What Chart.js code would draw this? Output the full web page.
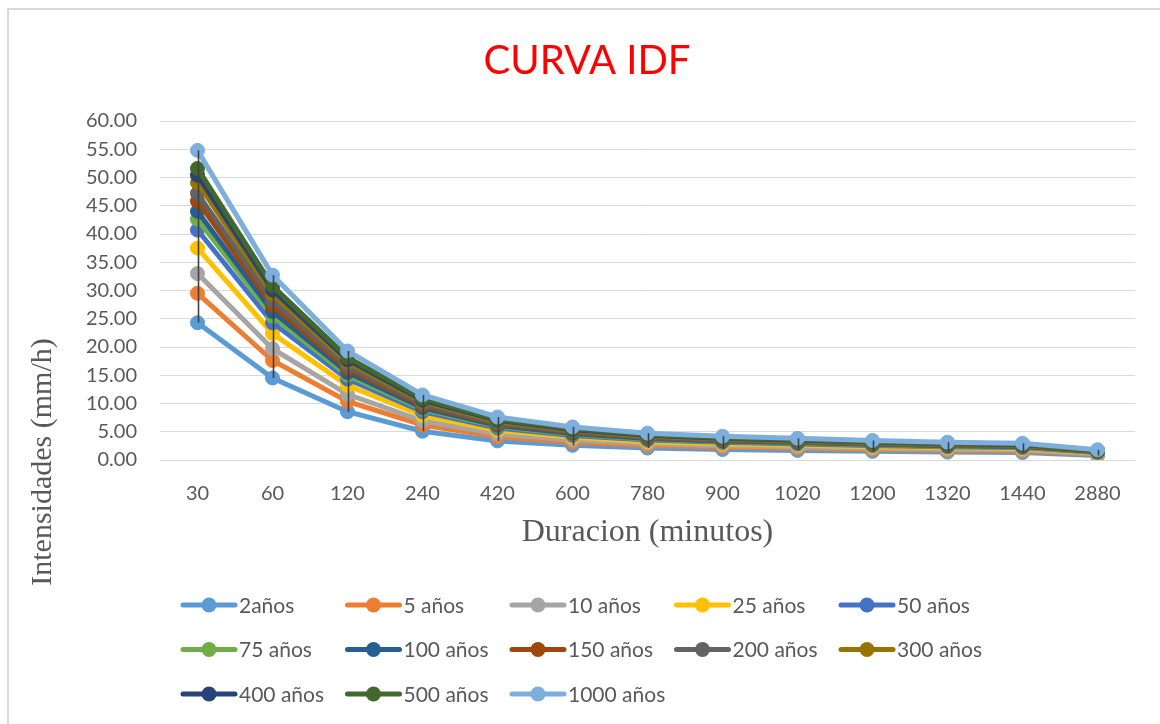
<!DOCTYPE html>
<html lang="es">
<head>
<meta charset="utf-8">
<title>CURVA IDF</title>
<script src="https://cdn.jsdelivr.net/npm/chart.js@4.4.1/dist/chart.umd.min.js"></script>
<style>
  html, body { margin: 0; padding: 0; background: #ffffff; }
  #wrap { width: 1160px; height: 724px; }
</style>
</head>
<body>
<div id="wrap"><canvas id="idf" width="1160" height="724"></canvas></div>
<script>
// Duraciones (minutos)
const durations = [30, 60, 120, 240, 420, 600, 780, 900, 1020, 1200, 1320, 1440, 2880];

// Intensidades (mm/h) por periodo de retorno
const i2    = [24.30, 14.51,  8.55,  5.10, 3.38, 2.60, 2.11, 1.86, 1.70, 1.53, 1.40, 1.31, 0.80];
const i5    = [29.50, 17.61, 10.38,  6.20, 4.10, 3.16, 2.56, 2.26, 2.07, 1.86, 1.70, 1.59, 0.97];
const i10   = [33.00, 19.70, 11.62,  6.93, 4.59, 3.53, 2.86, 2.53, 2.31, 2.08, 1.90, 1.78, 1.09];
const i25   = [37.50, 22.39, 13.20,  7.88, 5.21, 4.01, 3.25, 2.87, 2.63, 2.36, 2.16, 2.03, 1.24];
const i50   = [40.70, 24.30, 14.33,  8.55, 5.66, 4.35, 3.53, 3.12, 2.85, 2.56, 2.34, 2.20, 1.34];
const i75   = [42.60, 25.43, 15.00,  8.95, 5.92, 4.56, 3.69, 3.26, 2.98, 2.68, 2.45, 2.30, 1.41];
const i100  = [44.00, 26.27, 15.49,  9.24, 6.12, 4.71, 3.81, 3.37, 3.08, 2.77, 2.53, 2.38, 1.45];
const i150  = [45.80, 27.34, 16.12,  9.62, 6.37, 4.90, 3.97, 3.51, 3.21, 2.89, 2.63, 2.47, 1.51];
const i200  = [47.20, 28.18, 16.61,  9.91, 6.56, 5.05, 4.09, 3.62, 3.30, 2.97, 2.71, 2.55, 1.56];
const i300  = [49.10, 29.31, 17.28, 10.31, 6.82, 5.25, 4.26, 3.76, 3.44, 3.09, 2.82, 2.65, 1.62];
const i400  = [50.40, 30.09, 17.74, 10.58, 7.01, 5.39, 4.37, 3.86, 3.53, 3.18, 2.90, 2.72, 1.66];
const i500  = [51.60, 30.81, 18.16, 10.84, 7.17, 5.52, 4.47, 3.95, 3.61, 3.25, 2.97, 2.79, 1.70];
const i1000 = [54.80, 32.72, 19.29, 11.51, 7.62, 5.86, 4.75, 4.20, 3.84, 3.45, 3.15, 2.96, 1.81];

const seriesNames = ['2años', '5 años', '10 años', '25 años', '50 años', '75 años', '100 años',
                     '150 años', '200 años', '300 años', '400 años', '500 años', '1000 años'];
const seriesData = [i2, i5, i10, i25, i50, i75, i100, i150, i200, i300, i400, i500, i1000];

// Axis ticks
const yMin = 0, yMax = 60, yStep = 5;

// Series colours (Office palette)
const seriesColors = ['#5B9BD5', '#ED7D31', '#A5A5A5', '#FFC000', '#4472C4', '#70AD47', '#255E91',
                      '#9E480E', '#636363', '#997300', '#264478', '#43682B', '#7CAFDD'];

const TEXT = '#595959';
const SANS = 'Lato, "Open Sans", "Noto Sans", sans-serif';
const SERIF = '"Liberation Serif", "DejaVu Serif", serif';

const datasets = seriesData.map((vals, i) => ({
  label: seriesNames[i],
  data: vals,
  borderColor: seriesColors[i],
  backgroundColor: seriesColors[i],
  pointBackgroundColor: seriesColors[i],
  pointBorderColor: seriesColors[i],
  borderWidth: 5,
  pointRadius: 7,
  pointBorderWidth: 1,
  tension: 0,
  fill: false,
  order: seriesData.length - i   // later series drawn on top
}));

// Frame, title, high-low lines, axis titles and legend
const decorations = {
  id: 'decorations',
  beforeDraw(chart) {
    const c = chart.ctx;
    c.save();
    c.fillStyle = '#ffffff';
    c.fillRect(0, 0, chart.width, chart.height);
    c.strokeStyle = '#D9D9D9';
    c.lineWidth = 2;
    c.strokeRect(8, 9, chart.width + 20, chart.height + 20);
    c.restore();
  },
  afterDatasetsDraw(chart) {
    const c = chart.ctx, xs = chart.scales.x, ys = chart.scales.y;
    c.save();
    c.strokeStyle = '#404040';
    c.lineWidth = 1.6;
    durations.forEach((d, i) => {
      const vals = chart.data.datasets.map(ds => ds.data[i]);
      const hi = Math.max(...vals), lo = Math.min(...vals);
      const px = Math.round(xs.getPixelForValue(i)) + 0.5;
      c.beginPath();
      c.moveTo(px, ys.getPixelForValue(hi));
      c.lineTo(px, ys.getPixelForValue(lo));
      c.stroke();
    });
    c.restore();
  },
  afterDraw(chart) {
    const c = chart.ctx, area = chart.chartArea;
    c.save();
    // Title
    c.fillStyle = '#FF0000';
    c.font = '40px ' + SANS;
    c.textAlign = 'center';
    c.textBaseline = 'middle';
    c.fillText('CURVA IDF', 587, 61);

    // Axis titles
    c.fillStyle = TEXT;
    c.font = '32px ' + SERIF;
    c.fillText('Duracion (minutos)', (area.left + area.right) / 2, 533);
    c.save();
    c.translate(43, 462);
    c.rotate(-Math.PI / 2);
    c.font = '30px ' + SERIF;
    c.fillText('Intensidades (mm/h)', 0, 0);
    c.restore();

    // Legend: five columns, rows left-aligned
    const col0 = 183, colW = 164.5, row0 = 605, rowH = 44.5, lineLen = 52;
    c.font = '21px ' + SANS;
    c.textAlign = 'left';
    chart.data.datasets.forEach((ds, i) => {
      const x0 = col0 + (i % 5) * colW;
      const y0 = row0 + Math.floor(i / 5) * rowH;
      c.strokeStyle = ds.borderColor;
      c.lineWidth = 5;
      c.lineCap = 'round';
      c.beginPath();
      c.moveTo(x0, y0);
      c.lineTo(x0 + lineLen, y0);
      c.stroke();
      c.fillStyle = ds.borderColor;
      c.beginPath();
      c.arc(x0 + lineLen / 2, y0, 7.5, 0, Math.PI * 2);
      c.fill();
      c.fillStyle = TEXT;
      c.fillText(ds.label, x0 + lineLen + 4, y0 + 1);
    });
    c.restore();
  }
};

new Chart(document.getElementById('idf'), {
  type: 'line',
  data: { labels: durations.map(String), datasets },
  options: {
    responsive: false,
    animation: false,
    events: [],
    layout: { padding: { left: 0, right: 25, top: 121, bottom: 0 } },
    plugins: {
      legend: { display: false },
      title: { display: false },
      tooltip: { enabled: false }
    },
    scales: {
      x: {
        offset: true,
        grid: { display: false, drawTicks: false },
        border: { display: false },
        ticks: { color: TEXT, font: { family: SANS, size: 20 }, padding: 22, maxRotation: 0, autoSkip: false },
        afterFit(scale) { scale.height = 264; }
      },
      y: {
        min: yMin, max: yMax,
        grid: { color: '#D9D9D9', lineWidth: 1, drawTicks: false },
        border: { display: false },
        ticks: {
          stepSize: yStep,
          color: TEXT,
          font: { family: SANS, size: 20 },
          padding: 23,
          callback: v => v.toFixed(2)
        },
        afterFit(scale) { scale.width = 160; }
      }
    }
  },
  plugins: [decorations]
});
</script>
</body>
</html>
